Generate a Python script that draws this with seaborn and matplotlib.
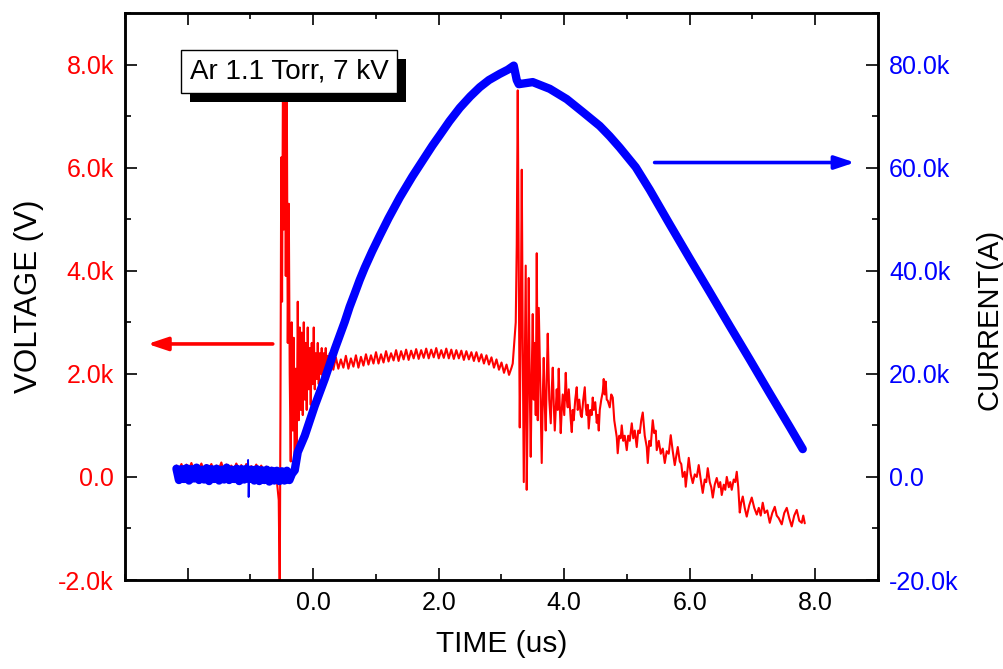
import numpy as np
import pandas as pd
import matplotlib
matplotlib.use('Agg')
import matplotlib.pyplot as plt
import matplotlib.patheffects as pe
from matplotlib.ticker import FuncFormatter, MultipleLocator
import seaborn as sns

# Voltage trace, time in us, voltage in kV
# flat part before the trigger, evenly sampled between -2.18 and -0.63 us
v_flat = [0.22, 0.14, 0.25, 0.12, 0.24, 0.15, 0.27, 0.13, 0.21, 0.16,
          0.26, 0.12, 0.23, 0.17, 0.25, 0.13, 0.22, 0.15, 0.28, 0.12,
          0.24, 0.16, 0.22, 0.13, 0.26, 0.15, 0.23, 0.12, 0.25, 0.17,
          0.21, 0.13, 0.24, 0.15, 0.22, 0.12, 0.20, 0.14, 0.18, 0.10]

# breakdown spike and ringing
v_spike1 = [(-0.598, 0.12), (-0.574, -0.15), (-0.550, -0.45), (-0.534, -2.3),
            (-0.523, 1.2), (-0.510, 6.2), (-0.497, 3.4), (-0.483, 7.7),
            (-0.469, 4.8), (-0.454, 7.9), (-0.438, 3.9), (-0.422, 7.6),
            (-0.406, 2.6), (-0.390, 5.3), (-0.375, 2.0), (-0.359, 0.3),
            (-0.343, 3.0), (-0.327, 0.9), (-0.311, 2.7), (-0.295, 0.1),
            (-0.279, 2.1), (-0.263, 0.6), (-0.247, 3.4), (-0.231, 1.1),
            (-0.215, 2.9), (-0.199, 1.3), (-0.183, 2.8), (-0.167, 1.2),
            (-0.151, 3.0), (-0.135, 1.5), (-0.120, 2.6), (-0.104, 1.3),
            (-0.088, 2.9), (-0.072, 1.7), (-0.056, 2.5), (-0.040, 1.4),
            (-0.024, 2.6), (-0.008, 1.8), (0.008, 2.9), (0.024, 1.7),
            (0.040, 2.4), (0.056, 1.9), (0.072, 2.6), (0.088, 1.8),
            (0.104, 2.4), (0.120, 2.0), (0.135, 2.5), (0.151, 1.95),
            (0.167, 2.4), (0.183, 2.05), (0.199, 2.5), (0.215, 2.0),
            (0.231, 2.35), (0.247, 2.05), (0.263, 2.4)]

# plateau, evenly sampled between 0.28 and 3.16 us
v_plateau = [2.30, 2.08, 2.32, 2.10, 2.28, 2.12, 2.35, 2.10, 2.30, 2.14,
             2.36, 2.12, 2.33, 2.16, 2.38, 2.18, 2.36, 2.20, 2.42, 2.20,
             2.38, 2.22, 2.44, 2.24, 2.40, 2.26, 2.46, 2.25, 2.44, 2.28,
             2.47, 2.27, 2.45, 2.30, 2.48, 2.29, 2.46, 2.31, 2.49, 2.30,
             2.47, 2.32, 2.50, 2.30, 2.46, 2.31, 2.49, 2.30, 2.47, 2.29,
             2.46, 2.30, 2.45, 2.27, 2.44, 2.28, 2.42, 2.25, 2.42, 2.24,
             2.38, 2.20, 2.36, 2.18, 2.32, 2.12, 2.28, 2.08, 2.22, 2.02,
             2.18, 1.98, 2.12]

# second spike and the decay
v_spike2 = [(3.179, 2.2), (3.203, 2.6), (3.227, 3.0), (3.243, 4.5), (3.259, 7.5),
            (3.275, 4.0), (3.291, 0.96), (3.307, 3.0), (3.323, 5.96), (3.339, 2.5),
            (3.355, -0.1), (3.371, 2.0), (3.386, 4.1), (3.402, -0.25), (3.418, 1.5),
            (3.434, 3.86), (3.450, 1.8), (3.466, 0.39), (3.482, 2.0), (3.498, 3.16),
            (3.514, 1.5), (3.530, 2.6), (3.546, 1.2), (3.562, 4.34), (3.578, 1.1),
            (3.594, 3.28), (3.618, 1.8), (3.641, 0.27), (3.657, 1.5), (3.673, 2.31),
            (3.689, 1.4), (3.705, 0.9), (3.721, 1.9), (3.737, 2.78), (3.761, 1.5),
            (3.785, 1.04), (3.801, 1.7), (3.817, 2.12), (3.833, 1.4), (3.849, 0.9),
            (3.880, 1.7), (3.896, 1.3), (3.912, 2.1), (3.928, 1.4), (3.944, 0.85),
            (3.960, 1.3), (3.976, 1.6), (4.000, 1.2), (4.024, 2.02), (4.040, 1.5),
            (4.056, 1.35), (4.072, 1.7), (4.088, 1.4), (4.104, 1.1), (4.120, 0.87),
            (4.135, 1.3), (4.151, 1.1), (4.175, 1.5), (4.199, 1.74), (4.215, 1.3),
            (4.239, 1.5), (4.263, 1.2), (4.279, 1.16), (4.303, 1.5), (4.327, 1.74),
            (4.343, 1.35), (4.359, 1.2), (4.375, 1.4), (4.390, 0.94), (4.414, 1.3),
            (4.438, 1.2), (4.454, 1.54), (4.470, 1.3), (4.494, 1.45), (4.518, 1.05),
            (4.534, 1.2), (4.550, 0.9), (4.566, 1.3), (4.590, 1.5), (4.614, 1.65),
            (4.629, 1.9), (4.645, 1.6), (4.661, 1.85), (4.677, 1.5), (4.693, 1.48),
            (4.725, 1.35), (4.749, 1.6), (4.773, 1.54), (4.797, 1.1), (4.821, 0.9),
            (4.837, 0.77), (4.852, 0.46), (4.876, 0.8), (4.900, 0.75), (4.916, 1.0),
            (4.940, 0.7), (4.964, 0.8), (4.996, 0.52), (5.020, 0.8), (5.044, 0.7),
            (5.076, 1.04), (5.100, 0.75), (5.124, 0.9), (5.155, 0.58), (5.179, 0.9),
            (5.203, 0.85), (5.227, 1.1), (5.251, 1.25), (5.283, 0.8), (5.315, 0.58),
            (5.331, 0.27), (5.355, 0.7), (5.378, 0.6), (5.410, 1.1), (5.434, 0.85),
            (5.458, 0.9), (5.474, 0.52), (5.506, 0.7), (5.538, 0.45), (5.570, 0.55),
            (5.602, 0.27), (5.633, 0.5), (5.665, 0.45), (5.697, 0.81), (5.729, 0.5),
            (5.761, 0.23), (5.785, 0.4), (5.809, 0.58), (5.841, 0.3), (5.865, 0.25),
            (5.888, 0.0), (5.920, 0.1), (5.936, -0.19), (5.960, 0.1), (5.984, 0.37),
            (6.016, 0.05), (6.048, -0.12), (6.080, 0.05), (6.112, 0.0), (6.143, 0.23),
            (6.175, -0.05), (6.207, -0.31), (6.239, -0.05), (6.263, -0.1), (6.287, 0.17),
            (6.319, -0.1), (6.343, -0.2), (6.367, -0.4), (6.398, -0.15), (6.430, -0.02),
            (6.462, -0.2), (6.486, -0.1), (6.510, -0.35), (6.542, -0.15), (6.566, -0.25),
            (6.590, 0.0), (6.622, -0.2), (6.645, -0.1), (6.669, -0.25), (6.701, -0.05),
            (6.725, -0.1), (6.749, 0.1), (6.773, -0.2), (6.797, -0.69), (6.820, -0.5),
            (6.845, -0.38), (6.876, -0.6), (6.908, -0.77), (6.948, -0.55), (6.988, -0.4),
            (7.028, -0.6), (7.068, -0.73), (7.100, -0.6), (7.131, -0.75), (7.163, -0.5),
            (7.195, -0.7), (7.235, -0.65), (7.275, -0.89), (7.315, -0.7), (7.355, -0.58),
            (7.386, -0.75), (7.418, -0.8), (7.466, -0.92), (7.506, -0.7), (7.546, -0.6),
            (7.586, -0.8), (7.625, -0.96), (7.665, -0.75), (7.705, -0.64), (7.745, -0.85),
            (7.785, -0.89), (7.809, -0.75), (7.833, -0.9)]

# Current trace, time in us, current in kA
i_trace = [(-2.18, 1.6), (-2.14, -0.6), (-2.10, 1.5), (-2.06, -0.4), (-2.02, 1.7),
           (-1.98, -0.7), (-1.94, 1.5), (-1.90, -0.3), (-1.86, 1.8), (-1.82, -0.6),
           (-1.78, 1.4), (-1.74, -0.5), (-1.70, 1.7), (-1.66, -0.8), (-1.62, 1.5),
           (-1.58, -0.4), (-1.54, 1.6), (-1.50, -0.7), (-1.46, 1.4), (-1.42, -0.5),
           (-1.38, 1.8), (-1.34, -0.6), (-1.30, 1.4), (-1.26, -0.4), (-1.22, 1.6),
           (-1.18, -0.8), (-1.14, 1.5), (-1.10, -0.5), (-1.06, 1.6), (-1.02, -0.4),
           (-0.98, 1.4), (-0.94, -0.7), (-0.90, 1.5), (-0.86, -0.8), (-0.82, 1.3),
           (-0.78, -0.6), (-0.74, 1.4), (-0.70, -0.9), (-0.66, 1.2), (-0.62, -0.7),
           (-0.58, 1.2), (-0.54, -0.8), (-0.50, 1.1), (-0.46, -0.7), (-0.42, 1.2),
           (-0.38, -0.6), (-0.34, 0.6), (-0.295, 1.3), (-0.247, 4.8), (-0.135, 8.0),
           (0.024, 13.8), (0.183, 19.0), (0.343, 24.8), (0.502, 30.1), (0.58, 33.0),
           (0.661, 35.6), (0.74, 38.2), (0.821, 40.6), (0.94, 43.8), (1.060, 46.8),
           (1.20, 50.2), (1.378, 54.2), (1.58, 58.3), (1.777, 62.0), (1.90, 64.3),
           (2.016, 66.3), (2.17, 69.0), (2.335, 71.6), (2.50, 73.8), (2.653, 75.6),
           (2.80, 77.0), (2.972, 78.2), (3.100, 79.0), (3.195, 79.8),
           (3.243, 77.0), (3.275, 76.2), (3.498, 76.6), (3.769, 75.3), (4.040, 73.3),
           (4.295, 70.8), (4.566, 68.1), (4.725, 66.1), (4.884, 63.9), (5.139, 60.1),
           (5.363, 55.7), (5.681, 49.0), (5.999, 42.4), (6.317, 35.9), (6.637, 29.3),
           (6.956, 22.8), (7.275, 16.2), (7.594, 9.7), (7.801, 5.4)]

# single glitch in the current baseline
i_glitch = [(-1.045, 0.4), (-1.038, 3.3), (-1.030, -3.9), (-1.022, 0.4)]

# build the tables
t_flat = np.linspace(-2.18, -0.63, len(v_flat))
t_plat = np.linspace(0.28, 3.16, len(v_plateau))
t_s1, v_s1 = zip(*v_spike1)
t_s2, v_s2 = zip(*v_spike2)
volt = pd.DataFrame({
    'time': np.concatenate([t_flat, t_s1, t_plat, t_s2]),
    'volt': np.concatenate([v_flat, v_s1, v_plateau, v_s2]) * 1000,
})
t_i, v_i = zip(*i_trace)
curr = pd.DataFrame({'time': t_i, 'curr': np.array(v_i) * 1000})
t_g, v_g = zip(*i_glitch)
glitch = pd.DataFrame({'time': t_g, 'curr': np.array(v_g) * 1000})

sns.set_style('ticks')
plt.rcParams['font.family'] = ['Liberation Sans', 'DejaVu Sans']
plt.rcParams['text.color'] = 'black'
plt.rcParams['axes.labelcolor'] = 'black'
plt.rcParams['xtick.color'] = 'black'
plt.rcParams['ytick.color'] = 'black'

fig = plt.figure(figsize=(10.04, 6.69), dpi=100)
ax = fig.add_axes([0.1245, 0.133, 0.750, 0.8475])
ax2 = ax.twinx()

sns.lineplot(data=volt, x='time', y='volt', ax=ax, color='#ff0000',
             linewidth=1.5, estimator=None, sort=False)
sns.lineplot(data=curr, x='time', y='curr', ax=ax2, color='#0000ff',
             linewidth=6.0, estimator=None, sort=False)
sns.lineplot(data=glitch, x='time', y='curr', ax=ax2, color='#0000ff',
             linewidth=1.3, estimator=None, sort=False)

ax.set_xlim(-3, 9)
ax.set_ylim(-2000, 9000)
ax2.set_ylim(-20000, 90000)

ax.xaxis.set_major_locator(MultipleLocator(2))
ax.xaxis.set_minor_locator(MultipleLocator(1))
ax.yaxis.set_major_locator(MultipleLocator(2000))
ax.yaxis.set_minor_locator(MultipleLocator(1000))
ax2.yaxis.set_major_locator(MultipleLocator(20000))
ax2.yaxis.set_minor_locator(MultipleLocator(10000))

kfmt = FuncFormatter(lambda v, p: '0.0' if abs(v) < 1e-9 else f'{v / 1000:.1f}k')
ax.yaxis.set_major_formatter(kfmt)
ax2.yaxis.set_major_formatter(kfmt)
ax.xaxis.set_major_formatter(FuncFormatter(lambda v, p: '' if v < -0.5 else f'{v:.1f}'))

ax.tick_params(which='both', direction='in', top=True, right=False, width=1.2,
               color='black')
ax.tick_params(which='major', length=8.5)
ax.tick_params(which='minor', length=4.5)
ax.tick_params(axis='x', labelsize=18, pad=8, labelcolor='black')
ax.tick_params(axis='y', labelsize=18, pad=8, labelcolor='#ff0000')
ax2.tick_params(which='both', direction='in', width=1.2, color='black')
ax2.tick_params(which='major', length=8.5)
ax2.tick_params(which='minor', length=4.5)
ax2.tick_params(axis='y', labelsize=18, pad=8, labelcolor='#0000ff')

for a in (ax, ax2):
    for s in a.spines.values():
        s.set_linewidth(1.8)
        s.set_color('black')

ax.set_xlabel('TIME (us)', fontsize=21.5, color='black')
ax.set_ylabel('VOLTAGE (V)', fontsize=22.5, color='black')
ax2.set_ylabel('CURRENT(A)', fontsize=21, color='black')
ax.xaxis.set_label_coords(0.5, -0.088)
ax.yaxis.set_label_coords(-0.108, 0.5)
ax2.yaxis.set_label_coords(1.129, 0.46)

# arrows pointing at the matching axis
ax.annotate('', xy=(-2.64, 2580), xytext=(-0.645, 2580),
            arrowprops=dict(arrowstyle='-|>,head_length=0.6,head_width=0.2',
                            color='#ff0000', lw=2.6, shrinkA=0, shrinkB=0,
                            mutation_scale=20))
ax2.annotate('', xy=(8.63, 61000), xytext=(5.44, 61000),
             arrowprops=dict(arrowstyle='-|>,head_length=0.6,head_width=0.2',
                             color='#0000ff', lw=2.6, shrinkA=0, shrinkB=0,
                             mutation_scale=20))

# label box with drop shadow
txt = ax2.text(0.218, 0.897, 'Ar 1.1 Torr, 7 kV', transform=ax2.transAxes,
               ha='center', va='center', fontsize=20, zorder=10,
               bbox=dict(boxstyle='square,pad=0.32', fc='white', ec='black', lw=1.0))
txt.get_bbox_patch().set_path_effects(
    [pe.withSimplePatchShadow(offset=(6.5, -6.5), shadow_rgbFace='black', alpha=1.0)])

fig.savefig('out.png', dpi=100)
